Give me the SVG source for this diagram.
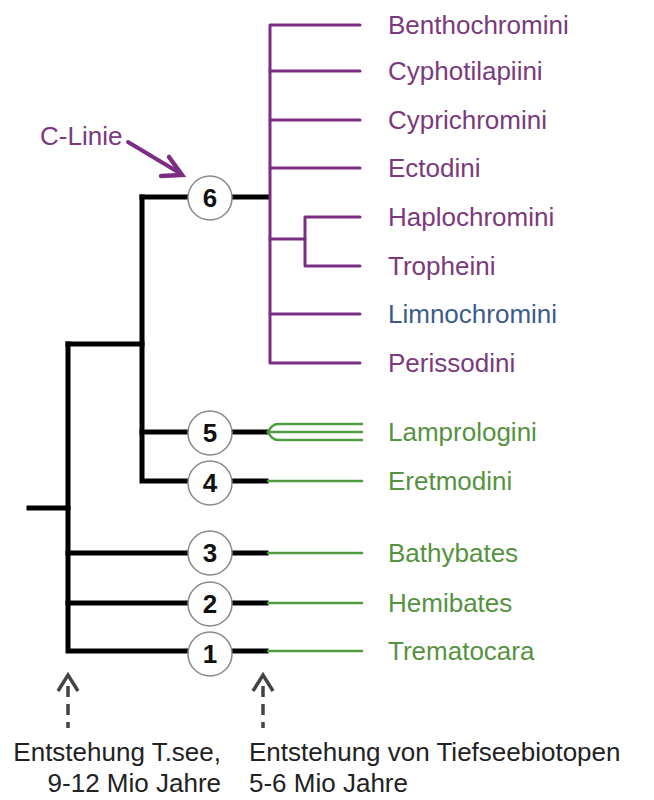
<svg xmlns="http://www.w3.org/2000/svg" width="654" height="800" viewBox="0 0 654 800">
<style>
  text { font-family: "Liberation Sans", Arial, sans-serif; font-size: 26px; }
  .blk { stroke: #000; stroke-width: 5; fill: none; stroke-linecap: square; }
  .pur { stroke: #7b2d84; stroke-width: 3; fill: none; stroke-linecap: round; stroke-linejoin: round; }
  .grn { stroke: #4f9b40; stroke-width: 2.6; fill: none; stroke-linecap: round; }
  .node circle { fill: #fff; stroke: #8a8a8a; stroke-width: 1.5; }
  .node text { font-weight: bold; font-size: 26px; fill: #111; text-anchor: middle; }
  .lp { fill: #7a3a7c; }
  .lb { fill: #3b5b8c; }
  .lg { fill: #56923f; }
  .note { fill: #222; font-size: 26px; }
  .up { stroke: #444; stroke-width: 3.5; fill: none; }
</style>
<rect width="654" height="800" fill="#fff"/>
<g id="connectors">
  <path class="blk" d="M29,508 H68"/>
  <path class="blk" d="M68,344 V651 H190"/>
  <path class="blk" d="M68,344 H142"/>
  <path class="blk" d="M68,553 H190"/>
  <path class="blk" d="M68,603 H190"/>
  <path class="blk" d="M142,197 V481 H190"/>
  <path class="blk" d="M142,197 H190"/>
  <path class="blk" d="M142,432 H190"/>
  <path class="blk" d="M231,197 H268"/>
  <path class="blk" d="M231,432 H266"/>
  <path class="blk" d="M231,481 H266"/>
  <path class="blk" d="M231,553 H266"/>
  <path class="blk" d="M231,603 H266"/>
  <path class="blk" d="M231,651 H266"/>
  <path class="pur" d="M360,25 H270 V363 H360"/>
  <path class="pur" d="M270,71 H360"/>
  <path class="pur" d="M270,120 H360"/>
  <path class="pur" d="M270,168 H360"/>
  <path class="pur" d="M270,239 H305"/>
  <path class="pur" d="M360,217 H305 V266 H360"/>
  <path class="pur" d="M270,314 H360"/>
  <path class="grn" d="M268,432 Q272,424 278,424 H362"/>
  <path class="grn" d="M268,432 H362"/>
  <path class="grn" d="M268,432 Q272,440 278,440 H362"/>
  <path class="grn" d="M268,481 H362"/>
  <path class="grn" d="M268,553 H362"/>
  <path class="grn" d="M268,603 H362"/>
  <path class="grn" d="M268,651 H362"/>
  <path d="M128,142 L178,172" stroke="#7b2d84" stroke-width="4" fill="none" stroke-linecap="round"/>
  <path d="M169,157 L182,175 L161,176" stroke="#7b2d84" stroke-width="4.5" fill="none" stroke-linejoin="miter" stroke-linecap="round"/>
  <path class="up" d="M58,691 L68,675 L78,691"/>
  <path class="up" d="M68,681 V728" stroke-dasharray="11 7" stroke-dashoffset="-5"/>
  <path class="up" d="M253,691 L263,675 L273,691"/>
  <path class="up" d="M263,681 V728" stroke-dasharray="11 7" stroke-dashoffset="-5"/>
</g>
<g id="node6" class="node"><circle cx="210" cy="198" r="22"/><text x="210" y="207">6</text></g>
<g id="node5" class="node"><circle cx="210" cy="433" r="22"/><text x="210" y="442">5</text></g>
<g id="node4" class="node"><circle cx="210" cy="483" r="22"/><text x="210" y="492">4</text></g>
<g id="node3" class="node"><circle cx="210" cy="553" r="22"/><text x="210" y="562">3</text></g>
<g id="node2" class="node"><circle cx="210" cy="604" r="22"/><text x="210" y="613">2</text></g>
<g id="node1" class="node"><circle cx="210" cy="654" r="22"/><text x="210" y="663">1</text></g>
<g id="labels">
  <text class="lp" x="388" y="34">Benthochromini</text>
  <text class="lp" x="388" y="80">Cyphotilapiini</text>
  <text class="lp" x="388" y="129">Cyprichromini</text>
  <text class="lp" x="388" y="177">Ectodini</text>
  <text class="lp" x="388" y="226">Haplochromini</text>
  <text class="lp" x="388" y="275">Tropheini</text>
  <text class="lb" x="388" y="323">Limnochromini</text>
  <text class="lp" x="388" y="372">Perissodini</text>
  <text class="lg" x="388" y="441">Lamprologini</text>
  <text class="lg" x="388" y="490">Eretmodini</text>
  <text class="lg" x="388" y="562">Bathybates</text>
  <text class="lg" x="388" y="612">Hemibates</text>
  <text class="lg" x="388" y="660">Trematocara</text>
  <text class="lp" x="40" y="145" font-size="24">C-Linie</text>
  <text class="note" x="221" y="761" text-anchor="end">Entstehung T.see,</text>
  <text class="note" x="221" y="792" text-anchor="end">9-12 Mio Jahre</text>
  <text class="note" x="249" y="761">Entstehung von Tiefseebiotopen</text>
  <text class="note" x="249" y="792">5-6 Mio Jahre</text>
</g>
</svg>
